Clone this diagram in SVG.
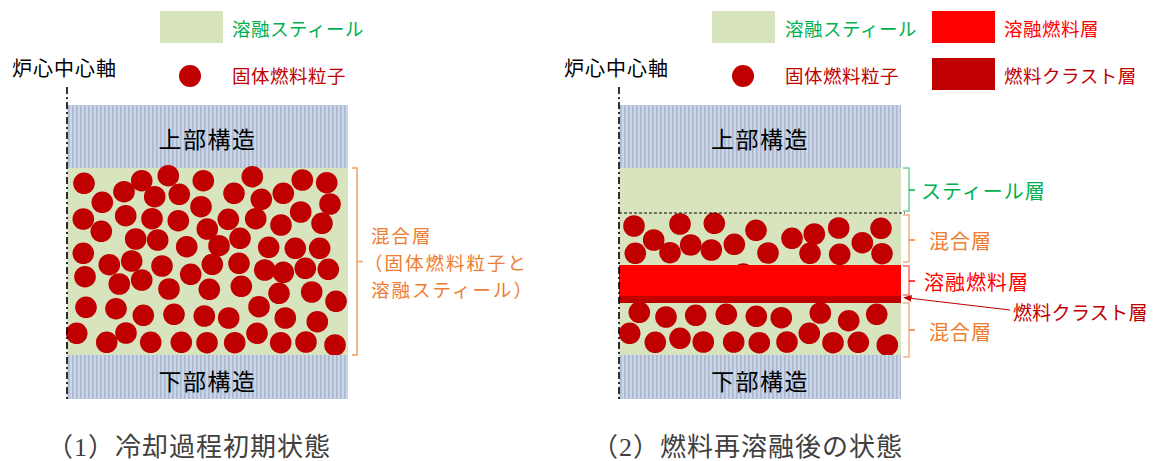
<svg xmlns="http://www.w3.org/2000/svg" width="1153" height="461" viewBox="0 0 1153 461">
<style>
text{font-family:"Noto Sans CJK JP","Noto Sans",sans-serif;dominant-baseline:central}
.lg{font-size:18.5px;letter-spacing:0.5px}
.lb{font-size:20px;letter-spacing:1px}
.lm{font-size:18.5px;letter-spacing:2px}
.st{font-size:23px;letter-spacing:1.5px;fill:#000;text-anchor:middle}
.cap{font-family:"Liberation Serif","Noto Sans CJK JP",serif;font-size:26px;letter-spacing:1px;fill:#404040}
.g{fill:#00B050}.r{fill:#FF0000}.dr{fill:#C00000}.o{fill:#ED7D31}
.steel{fill:#D7E4BD}
.hatch{fill:url(#hp)}
.p{fill:#C00000}
.axis{stroke:#000;stroke-width:1.6;stroke-dasharray:7 3 2 3;fill:none}
.br{fill:none;stroke-width:1.5}
</style>
<defs>
<pattern id="hp" patternUnits="userSpaceOnUse" width="4" height="4">
<rect width="4" height="4" fill="#C8D5EA"/>
<rect width="1.6" height="4" fill="#AEB8CB"/>
</pattern>
<marker id="ah" viewBox="0 0 10 10" refX="9" refY="5" markerWidth="7" markerHeight="7" orient="auto">
<path d="M0,1 L10,5 L0,9 z" fill="#C00000"/>
</marker>
</defs>
<rect width="1153" height="461" fill="#fff"/>

<g id="legend-left">
<rect x="160" y="11" width="63" height="32" class="steel"/>
<text x="232" y="28" class="lg g">溶融スティール</text>
<circle cx="190" cy="76" r="11" class="p"/>
<text x="232" y="75" class="lg dr">固体燃料粒子</text>
<text x="12" y="67" class="lb" style="fill:#000">炉心中心軸</text>
</g>

<g id="legend-right">
<rect x="712" y="11" width="63" height="32" class="steel"/>
<text x="785" y="28" class="lg g">溶融スティール</text>
<circle cx="743" cy="76" r="11" class="p"/>
<text x="785" y="75" class="lg dr">固体燃料粒子</text>
<rect x="932" y="11" width="63" height="32" fill="#FF0000"/>
<text x="1004" y="28" class="lg r">溶融燃料層</text>
<rect x="932" y="58" width="63" height="32" fill="#C00000"/>
<text x="1004" y="75" class="lg dr">燃料クラスト層</text>
<text x="564" y="67" class="lb" style="fill:#000">炉心中心軸</text>
</g>

<g id="panel-left">
<rect x="67" y="105" width="281" height="63" class="hatch"/>
<text x="207.5" y="138" class="st">上部構造</text>
<rect x="67" y="168" width="281" height="187" class="steel"/>
<g id="particles-left" class="p">
<circle cx="84" cy="183.3" r="10.8"/><circle cx="141.7" cy="180.7" r="10.8"/><circle cx="168.3" cy="175.7" r="10.8"/><circle cx="203.3" cy="180.7" r="10.8"/><circle cx="252.3" cy="176.7" r="10.8"/><circle cx="302.3" cy="180" r="10.8"/><circle cx="326.7" cy="182.7" r="10.8"/>
<circle cx="102.3" cy="202.3" r="10.8"/><circle cx="124" cy="191.7" r="10.8"/><circle cx="154.7" cy="196.7" r="10.8"/><circle cx="179.3" cy="194.3" r="10.8"/><circle cx="234" cy="193.3" r="10.8"/><circle cx="261.3" cy="199.3" r="10.8"/><circle cx="283.3" cy="193.3" r="10.8"/><circle cx="330" cy="204" r="10.8"/>
<circle cx="83.3" cy="219" r="10.8"/><circle cx="125.7" cy="215.7" r="10.8"/><circle cx="152" cy="218.7" r="10.8"/><circle cx="178.3" cy="220.7" r="10.8"/><circle cx="201" cy="206.7" r="10.8"/><circle cx="228.3" cy="219.3" r="10.8"/><circle cx="255.7" cy="218.7" r="10.8"/><circle cx="300.7" cy="212" r="10.8"/><circle cx="322" cy="223.3" r="10.8"/>
<circle cx="101.3" cy="231.3" r="10.8"/><circle cx="135.7" cy="239" r="10.8"/><circle cx="157.7" cy="240" r="10.8"/><circle cx="207.3" cy="229" r="10.8"/><circle cx="240" cy="238.3" r="10.8"/><circle cx="281" cy="225" r="10.8"/>
<circle cx="83.3" cy="253.3" r="10.8"/><circle cx="186.7" cy="246.7" r="10.8"/><circle cx="219" cy="245.7" r="10.8"/><circle cx="268.7" cy="247.3" r="10.8"/><circle cx="295.3" cy="248.3" r="10.8"/><circle cx="319.7" cy="248.3" r="10.8"/>
<circle cx="109.3" cy="264.7" r="10.8"/><circle cx="131.7" cy="261" r="10.8"/><circle cx="162" cy="266" r="10.8"/><circle cx="190.7" cy="274.3" r="10.8"/><circle cx="212.3" cy="264.3" r="10.8"/><circle cx="239" cy="263.3" r="10.8"/><circle cx="264.7" cy="270" r="10.8"/><circle cx="283.3" cy="272.3" r="10.8"/><circle cx="305.3" cy="268.3" r="10.8"/><circle cx="328.3" cy="269.3" r="10.8"/>
<circle cx="85" cy="276.7" r="10.8"/><circle cx="119.3" cy="284" r="10.8"/><circle cx="141.7" cy="280" r="10.8"/><circle cx="169" cy="289" r="10.8"/><circle cx="209.3" cy="289.3" r="10.8"/><circle cx="241.3" cy="286.3" r="10.8"/><circle cx="279" cy="293.3" r="10.8"/><circle cx="311.7" cy="292" r="10.8"/><circle cx="336" cy="301.3" r="10.8"/>
<circle cx="86" cy="307.3" r="10.8"/><circle cx="116" cy="308.7" r="10.8"/><circle cx="143.3" cy="315.3" r="10.8"/><circle cx="174" cy="314.3" r="10.8"/><circle cx="204.3" cy="316" r="10.8"/><circle cx="228.7" cy="318" r="10.8"/><circle cx="259" cy="306.7" r="10.8"/><circle cx="285.3" cy="318" r="10.8"/><circle cx="317.3" cy="321.7" r="10.8"/>
<circle cx="76.7" cy="333.3" r="10.8"/><circle cx="106.7" cy="342.3" r="10.8"/><circle cx="126" cy="333" r="10.8"/><circle cx="150.7" cy="342.3" r="10.8"/><circle cx="181.3" cy="342.3" r="10.8"/><circle cx="207" cy="342.7" r="10.8"/><circle cx="234.7" cy="342.7" r="10.8"/><circle cx="257" cy="333.3" r="10.8"/><circle cx="280.7" cy="342.7" r="10.8"/><circle cx="306" cy="342" r="10.8"/><circle cx="335" cy="345" r="10.8"/>
</g>
<rect x="67" y="355" width="281" height="44" class="hatch"/>
<text x="207.5" y="380" class="st">下部構造</text>
<line x1="67" y1="87" x2="67" y2="400" class="axis"/>
</g>

<g id="label-left-mix">
<path d="M352,168 H357 V355 H352 M357,261.5 H363" class="br" stroke="#F0A060"/>
<text x="371" y="235" class="lm o">混合層</text>
<text x="364" y="262" class="lm o">（固体燃料粒子と</text>
<text x="371" y="289" class="lm o">溶融スティール）</text>
</g>

<g id="panel-right">
<rect x="619" y="105" width="282" height="63" class="hatch"/>
<text x="760" y="138" class="st">上部構造</text>
<rect x="619" y="168" width="282" height="187" class="steel"/>
<g id="particles-right-upper" class="p">
<circle cx="634" cy="226" r="10.8"/><circle cx="680" cy="224" r="10.8"/><circle cx="714.3" cy="223.3" r="10.8"/><circle cx="756" cy="230.3" r="10.8"/><circle cx="881" cy="228.3" r="10.8"/><circle cx="838.7" cy="228" r="10.8"/>
<circle cx="653.7" cy="240" r="10.8"/><circle cx="690.7" cy="245" r="10.8"/><circle cx="734.3" cy="244.3" r="10.8"/><circle cx="792" cy="238.3" r="10.8"/><circle cx="814.3" cy="234" r="10.8"/><circle cx="862.3" cy="242.7" r="10.8"/>
<circle cx="635.3" cy="253.3" r="10.8"/><circle cx="670" cy="252.7" r="10.8"/><circle cx="711.3" cy="250" r="10.8"/><circle cx="768" cy="253" r="10.8"/><circle cx="810" cy="253.3" r="10.8"/><circle cx="839.7" cy="254.3" r="10.8"/><circle cx="882" cy="253.7" r="10.8"/>
<circle cx="743.3" cy="274" r="10.8"/>
</g>
<rect x="619" y="265" width="282" height="31" fill="#FF0000"/>
<rect x="619" y="296" width="282" height="7" fill="#C00000"/>
<g id="particles-right-lower" class="p">
<circle cx="639.3" cy="312.3" r="10.8"/><circle cx="666" cy="317" r="10.8"/><circle cx="695.7" cy="315.3" r="10.8"/><circle cx="726.3" cy="314.3" r="10.8"/><circle cx="756.3" cy="316.3" r="10.8"/><circle cx="781.3" cy="317.7" r="10.8"/><circle cx="820.3" cy="313" r="10.8"/><circle cx="848.7" cy="320.7" r="10.8"/><circle cx="876.7" cy="314.3" r="10.8"/>
<circle cx="629.7" cy="333.3" r="10.8"/><circle cx="655.3" cy="342.3" r="10.8"/><circle cx="680" cy="338.3" r="10.8"/><circle cx="703.3" cy="342" r="10.8"/><circle cx="733.7" cy="342" r="10.8"/><circle cx="759.3" cy="342.7" r="10.8"/><circle cx="787" cy="342" r="10.8"/><circle cx="809.3" cy="333.3" r="10.8"/><circle cx="833" cy="342.7" r="10.8"/><circle cx="858.3" cy="342.3" r="10.8"/><circle cx="887.3" cy="345" r="10.8"/>
</g>
<rect x="619" y="355" width="282" height="44" class="hatch"/>
<text x="760" y="380" class="st">下部構造</text>
<line x1="619" y1="213" x2="905" y2="213" stroke="#000" stroke-width="1.2" stroke-dasharray="3 2"/>
<line x1="619" y1="87" x2="619" y2="400" class="axis"/>
</g>

<g id="labels-right">
<path d="M903,168 H909 V211 H903" class="br" stroke="#6CD396"/>
<path d="M909,190 H915" class="br" stroke="#00B050" stroke-width="2.5"/>
<text x="921" y="190" class="lb g">スティール層</text>
<path d="M903,215 H909 V262 H903" class="br" stroke="#F4B183"/>
<path d="M909,240 H915" class="br" stroke="#ED7D31" stroke-width="2"/>
<text x="929" y="240" class="lb o">混合層</text>
<path d="M903,266 H909 V295 H903" class="br" stroke="#FF7070"/>
<path d="M909,281 H915" class="br" stroke="#FF0000" stroke-width="2"/>
<text x="924" y="281" class="lb r">溶融燃料層</text>
<path d="M903,303 H909 V357 H903" class="br" stroke="#F4B183"/>
<path d="M909,330 H915" class="br" stroke="#ED7D31" stroke-width="2"/>
<text x="929" y="331" class="lb o">混合層</text>
<text x="1013" y="311" style="font-size:19px;letter-spacing:0.3px" class="dr">燃料クラスト層</text>
</g>

<g id="connectors">
<line x1="1010" y1="310" x2="904" y2="297.5" stroke="#C00000" stroke-width="1.2" marker-end="url(#ah)"/>
</g>

<g id="captions">
<text x="47" y="447" class="cap">（1）冷却過程初期状態</text>
<text x="592" y="447" class="cap">（2）燃料再溶融後の状態</text>
</g>
</svg>
